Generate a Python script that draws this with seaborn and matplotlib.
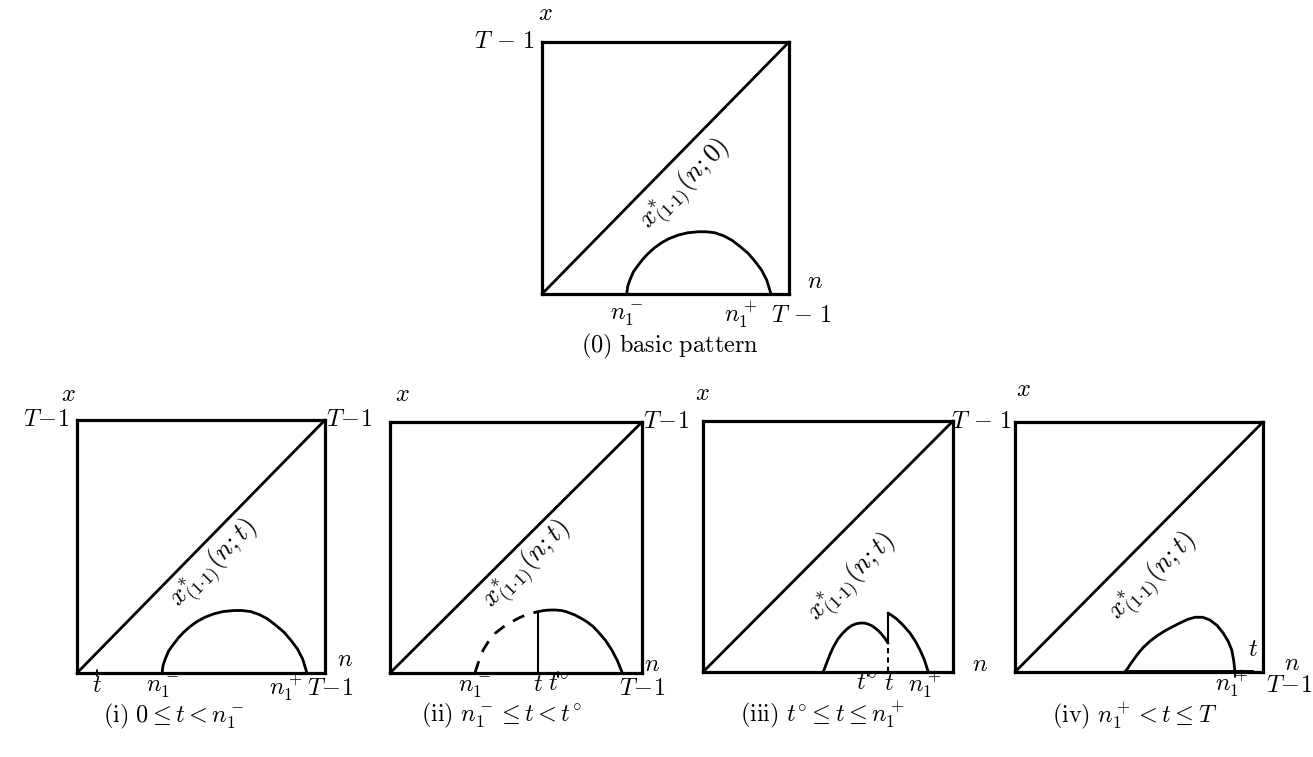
import matplotlib
matplotlib.use("Agg")
import matplotlib.pyplot as plt
import numpy as np
import pandas as pd
import seaborn as sns

# ---- data (n and x in units of T-1) ----
diag_n = [0.0, 1.0]
diag_x = [0.0, 1.0]

# basic pattern: hump between n1- and n1+
basic_n = [0.343, 0.347, 0.356, 0.370, 0.390, 0.410, 0.430, 0.455, 0.485, 0.515, 0.552, 0.590,
           0.633, 0.665, 0.700, 0.735, 0.768, 0.800, 0.835, 0.862, 0.889, 0.910, 0.927]
basic_x = [0.000, 0.030, 0.056, 0.088, 0.115, 0.140, 0.161, 0.183, 0.204, 0.220, 0.234, 0.243,
           0.247, 0.247, 0.243, 0.231, 0.214, 0.190, 0.161, 0.130, 0.095, 0.055, 0.000]

# case (ii): part left of t is dashed, solid from t onwards
ii_t = 0.586
ii_tdeg = 0.667
ii_dash_n = [0.337, 0.350, 0.370, 0.392, 0.417, 0.450, 0.483, 0.515, 0.549, 0.586]
ii_dash_x = [0.000, 0.040, 0.092, 0.128, 0.158, 0.184, 0.204, 0.221, 0.235, 0.244]
ii_solid_n = [0.586, 0.605, 0.620, 0.640, 0.655, 0.680, 0.700, 0.734, 0.760, 0.780,
              0.805, 0.825, 0.855, 0.880, 0.902, 0.922]
ii_solid_x = [0.244, 0.248, 0.250, 0.251, 0.251, 0.249, 0.244, 0.231, 0.217, 0.205,
              0.186, 0.165, 0.130, 0.092, 0.050, 0.000]

# case (iii): two pieces joined by a jump at t
iii_t = 0.740
iii_tdeg = 0.660
iii_left_n = [0.481, 0.495, 0.508, 0.521, 0.540, 0.561, 0.578, 0.595, 0.612, 0.628,
              0.645, 0.660, 0.676, 0.690, 0.703, 0.715, 0.728, 0.740]
iii_left_x = [0.000, 0.037, 0.070, 0.099, 0.132, 0.157, 0.173, 0.185, 0.192, 0.195,
              0.195, 0.191, 0.184, 0.174, 0.163, 0.150, 0.134, 0.115]
iii_right_n = [0.740, 0.757, 0.775, 0.800, 0.828, 0.850, 0.868, 0.885, 0.901]
iii_right_x = [0.235, 0.224, 0.211, 0.187, 0.155, 0.122, 0.088, 0.050, 0.000]

# case (iv)
iv_t = 0.960
iv_n = [0.444, 0.470, 0.495, 0.517, 0.545, 0.575, 0.605, 0.635, 0.665, 0.695, 0.726,
        0.757, 0.786, 0.815, 0.840, 0.860, 0.874, 0.882, 0.887]
iv_x = [0.000, 0.038, 0.072, 0.098, 0.124, 0.146, 0.165, 0.181, 0.196, 0.210, 0.219,
        0.219, 0.208, 0.186, 0.155, 0.122, 0.088, 0.045, 0.000]

# case (i)
i_t = 0.081

captions = [r"$\mathrm{(0)\ basic\ pattern}$",
            r"$\mathrm{(i)}\ 0\leq t<n_1^-$",
            r"$\mathrm{(ii)}\ n_1^-\leq t<t^{\circ}$",
            r"$\mathrm{(iii)}\ t^{\circ}\leq t\leq n_1^+$",
            r"$\mathrm{(iv)}\ n_1^+<t\leq T$"]

# ---- style ----
sns.set_theme(style="white")
plt.rcParams["mathtext.fontset"] = "cm"
plt.rcParams["font.family"] = ["DejaVu Serif"]
plt.rcParams["lines.solid_joinstyle"] = "round"
plt.rcParams["lines.solid_capstyle"] = "round"

FS = 17.5
FS_DIAG = 19
LW_BOX = 2.3
LW = 2.0

fig = plt.figure(figsize=(13.13, 7.57), dpi=100)
W, H = 1313.0, 757.0


def make_axes(left, right, top, bottom):
    ax = fig.add_axes([left / W, 1 - bottom / H, (right - left) / W, (bottom - top) / H])
    ax.set_xlim(0, 1)
    ax.set_ylim(0, 1)
    ax.set_xticks([])
    ax.set_yticks([])
    for s in ax.spines.values():
        s.set_linewidth(LW_BOX)
        s.set_color("black")
        s.set_visible(True)
    ax.set_facecolor("none")
    return ax


def line(ax, n, x, lw=LW, **kw):
    df = pd.DataFrame({"n": n, "x": x})
    sns.lineplot(data=df, x="n", y="x", ax=ax, sort=False, estimator=None,
                 color="black", lw=lw, legend=False, **kw)
    for l in ax.lines:
        l.set_clip_on(False)
    ax.set_xlabel("")
    ax.set_ylabel("")


def txt(ax, x, y, s, ha="center", va="center", fs=FS, **kw):
    ax.text(x, y, s, ha=ha, va=va, fontsize=fs, clip_on=False, color="black", **kw)


def diag_label(ax, x, y, arg):
    ax.text(x, y, r"$x^{*}_{(1{\cdot}1)}(n;%s)$" % arg, rotation=45,
            rotation_mode="anchor", ha="center", va="center", fontsize=FS_DIAG,
            color="black")


def tick(ax, n, lo=-0.02, hi=0.0):
    line(ax, [n, n], [lo, hi], lw=1.3)


# ---- (0) basic pattern ----
ax0 = make_axes(542, 789, 42, 294)
line(ax0, diag_n, diag_x)
line(ax0, basic_n, basic_x)
diag_label(ax0, 0.586, 0.432, "0")
txt(ax0, 0.012, 1.115, r"$x$")
txt(ax0, -0.03, 1.0, r"$T\,-\,1$", ha="right")
txt(ax0, 1.105, 0.05, r"$n$")
txt(ax0, basic_n[0], -0.087, r"$n_1^-$")
txt(ax0, 0.806, -0.087, r"$n_1^+$")
txt(ax0, 1.05, -0.087, r"$T\,-\,1$")
txt(ax0, 0.518, -0.21, captions[0])

# ---- (i) ----
ax1 = make_axes(77, 325, 420, 673)
line(ax1, diag_n, diag_x)
line(ax1, basic_n, basic_x)
tick(ax1, i_t, -0.012, 0.012)
diag_label(ax1, 0.556, 0.428, "t")
txt(ax1, -0.036, 1.10, r"$x$")
txt(ax1, -0.03, 1.0, r"$T\!-\!1$", ha="right")
txt(ax1, 1.005, 1.0, r"$T\!-\!1$", ha="left")
txt(ax1, 1.081, 0.055, r"$n$")
txt(ax1, i_t, -0.048, r"$t$")
txt(ax1, basic_n[0], -0.06, r"$n_1^-$")
txt(ax1, 0.84, -0.06, r"$n_1^+$")
txt(ax1, 1.02, -0.06, r"$T\!-\!1$")
txt(ax1, 0.39, -0.17, captions[1])

# ---- (ii) ----
ax2 = make_axes(390, 642, 422, 673)
line(ax2, diag_n, diag_x)
line(ax2, ii_dash_n, ii_dash_x, linestyle=(0, (4.5, 3.5)))
line(ax2, ii_solid_n, ii_solid_x)
line(ax2, [ii_t, ii_t], [0.0, ii_dash_x[-1]], lw=1.5)
tick(ax2, ii_tdeg, -0.015, 0.005)
diag_label(ax2, 0.549, 0.425, "t")
txt(ax2, 0.048, 1.108, r"$x$")
txt(ax2, 1.004, 1.0, r"$T\!-\!1$", ha="left")
txt(ax2, 1.04, 0.035, r"$n$")
txt(ax2, ii_dash_n[0], -0.06, r"$n_1^-$")
txt(ax2, ii_t, -0.045, r"$t$")
txt(ax2, ii_tdeg, -0.045, r"$t^{\circ}$")
txt(ax2, 1.0, -0.06, r"$T\!-\!1$")
txt(ax2, 0.444, -0.171, captions[2])

# ---- (iii) ----
ax3 = make_axes(703, 953, 421, 672)
line(ax3, diag_n, diag_x)
line(ax3, iii_left_n, iii_left_x)
line(ax3, iii_right_n, iii_right_x)
line(ax3, [iii_t, iii_t], [iii_left_x[-1], iii_right_x[0]], lw=1.5)
line(ax3, [iii_t, iii_t], [0.0, iii_left_x[-1]], lw=1.5, linestyle=(0, (2.5, 2)))
tick(ax3, iii_tdeg, -0.015, 0.0)
diag_label(ax3, 0.60, 0.372, "t")
txt(ax3, -0.004, 1.11, r"$x$")
txt(ax3, 0.99, 1.0, r"$T\,-\,1$", ha="left")
txt(ax3, 1.108, 0.03, r"$n$")
txt(ax3, iii_tdeg - 0.008, -0.045, r"$t^{\circ}$")
txt(ax3, iii_t + 0.005, -0.045, r"$t$")
txt(ax3, 0.885, -0.055, r"$n_1^+$")
txt(ax3, 0.476, -0.175, captions[3])

# ---- (iv) ----
ax4 = make_axes(1015, 1263, 422, 672)
line(ax4, diag_n, diag_x)
line(ax4, iv_n, iv_x)
line(ax4, [iv_n[0], iv_t], [0.0, 0.0], lw=2.8)
tick(ax4, iv_n[-1], -0.02, 0.0)
diag_label(ax4, 0.56, 0.375, "t")
txt(ax4, 0.035, 1.13, r"$x$")
txt(ax4, iv_t, 0.09, r"$t$")
txt(ax4, 1.117, 0.036, r"$n$")
txt(ax4, 0.875, -0.05, r"$n_1^+$")
txt(ax4, 1.105, -0.055, r"$T\!-\!1$")
txt(ax4, 0.484, -0.176, captions[4])

fig.savefig("out.png", dpi=100, facecolor="white")
